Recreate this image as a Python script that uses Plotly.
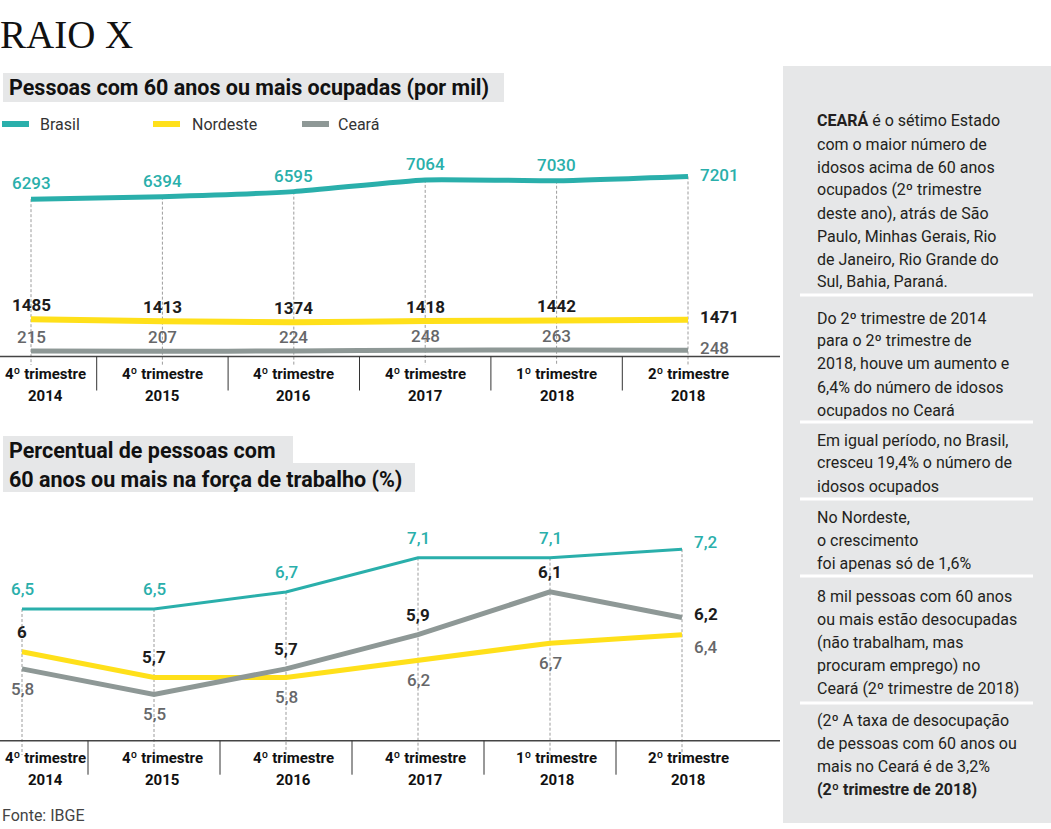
import plotly.graph_objects as go

W, H = 1051, 829

# ---------------- data ----------------
period_top = ["4º trimestre", "4º trimestre", "4º trimestre", "4º trimestre", "1º trimestre", "2º trimestre"]
period_year = ["2014", "2015", "2016", "2017", "2018", "2018"]
series_names = ["Brasil", "Nordeste", "Ceará"]

ocupadas_brasil = [6293, 6394, 6595, 7064, 7030, 7201]
ocupadas_nordeste = [1485, 1413, 1374, 1418, 1442, 1471]
ocupadas_ceara = [215, 207, 224, 248, 263, 248]

forca_brasil = [6.5, 6.5, 6.7, 7.1, 7.1, 7.2]
forca_nordeste = [6.0, 5.7, 5.7, 5.9, 6.1, 6.2]
forca_ceara = [5.8, 5.5, 5.8, 6.2, 6.7, 6.4]

side_paragraphs = [
    ["<b>CEARÁ</b> é o sétimo Estado", "com o maior número de", "idosos acima de 60 anos",
     "ocupados (2º trimestre", "deste ano), atrás de São", "Paulo, Minhas Gerais, Rio",
     "de Janeiro, Rio Grande do", "Sul, Bahia, Paraná."],
    ["Do 2º trimestre de 2014", "para o 2º trimestre de", "2018, houve um aumento e",
     "6,4% do número de idosos", "ocupados no Ceará"],
    ["Em igual período, no Brasil,", "cresceu 19,4% o número de", "idosos ocupados"],
    ["No Nordeste,", "o crescimento", "foi apenas só de 1,6%"],
    ["8 mil pessoas com 60 anos", "ou mais estão desocupadas", "(não trabalham, mas",
     "procuram emprego) no", "Ceará (2º trimestre de 2018)"],
    ["(2º A taxa de desocupação", "de pessoas com 60 anos ou", "mais no Ceará é de 3,2%",
     "<b>(2º trimestre de 2018)</b>"],
]

# ---------------- styles ----------------
TEAL = "#2AAFAB"
YELLOW = "#FFE01A"
GRAY = "#8E9896"
LBL_GRAY = "#666769"
DARK = "#1c1c1c"
PANEL = "#E6E7E8"
FONT = "Roboto"


def px(x):
    return x / W


def py(y):
    return 1 - y / H


n = len(period_year)
xs = list(range(n))

# axis geometry (pixels)
c1_top, c1_bot, c1_axis = 150, 365, 356.5
c2_top, c2_bot, c2_axis = 500, 755, 740.7
plot_right = 780

y1_range = [-340, 8260]
y2_range = [4.792, 7.775]
x1_range = [-31 / 131.4, (plot_right - 31) / 131.4]
x2_range = [-22 / 132.0, (plot_right - 22) / 132.0]

fig = go.Figure()


def guide(values, bottom, xa, ya):
    gx, gy = [], []
    for i, v in enumerate(values):
        gx += [i, i, None]
        gy += [v, bottom, None]
    fig.add_trace(go.Scatter(x=gx, y=gy, mode="lines", xaxis=xa, yaxis=ya,
                             line=dict(color="#9c9c9c", width=1, dash="3px,2px"),
                             hoverinfo="skip", showlegend=False))


guide(ocupadas_brasil, y1_range[0], "x", "y")
guide(forca_brasil, y2_range[0], "x2", "y2")

for vals, col, wd in [(ocupadas_ceara, GRAY, 5), (ocupadas_nordeste, YELLOW, 6), (ocupadas_brasil, TEAL, 5)]:
    fig.add_trace(go.Scatter(x=xs, y=vals, mode="lines", xaxis="x", yaxis="y",
                             line=dict(color=col, width=wd, shape="spline", smoothing=0.5),
                             hoverinfo="skip", showlegend=False))

for vals, col, wd in [(forca_nordeste, YELLOW, 5), (forca_ceara, GRAY, 5), (forca_brasil, TEAL, 3)]:
    fig.add_trace(go.Scatter(x=xs, y=vals, mode="lines", xaxis="x2", yaxis="y2",
                             line=dict(color=col, width=wd),
                             hoverinfo="skip", showlegend=False))

ann = []
shapes = []

# ---------- title & headers ----------
ann.append(dict(x=px(-2), y=py(34), xref="paper", yref="paper", xanchor="left", yanchor="middle",
                text="RAIO X", showarrow=False,
                font=dict(family="Liberation Serif", size=39, color="#111")))

shapes.append(dict(type="rect", xref="paper", yref="paper", x0=px(3), x1=px(504), y0=py(102), y1=py(73),
                   fillcolor=PANEL, line=dict(width=0), layer="below"))
ann.append(dict(x=px(7), y=py(88), xref="paper", yref="paper", xanchor="left", yanchor="middle",
                text="<b>Pessoas com 60 anos ou mais ocupadas (por mil)</b>", showarrow=False,
                font=dict(family=FONT, size=21.5, color="#111")))

shapes.append(dict(type="rect", xref="paper", yref="paper", x0=px(3), x1=px(293), y0=py(463), y1=py(436),
                   fillcolor=PANEL, line=dict(width=0), layer="below"))
shapes.append(dict(type="rect", xref="paper", yref="paper", x0=px(3), x1=px(415), y0=py(492), y1=py(463),
                   fillcolor=PANEL, line=dict(width=0), layer="below"))
ann.append(dict(x=px(7), y=py(451), xref="paper", yref="paper", xanchor="left", yanchor="middle",
                text="<b>Percentual de pessoas com</b>", showarrow=False,
                font=dict(family=FONT, size=21.5, color="#111")))
ann.append(dict(x=px(7), y=py(479), xref="paper", yref="paper", xanchor="left", yanchor="middle",
                text="<b>60 anos ou mais na força de trabalho (%)</b>", showarrow=False,
                font=dict(family=FONT, size=21.5, color="#111")))

# ---------- legend ----------
for name, col, x0, tx in zip(series_names, [TEAL, YELLOW, GRAY], [2, 153, 302], [38, 190, 336]):
    shapes.append(dict(type="line", xref="paper", yref="paper", x0=px(x0), x1=px(x0 + 27),
                       y0=py(124), y1=py(124), line=dict(color=col, width=6)))
    ann.append(dict(x=px(tx), y=py(124), xref="paper", yref="paper", xanchor="left", yanchor="middle",
                    text=name, showarrow=False, font=dict(family=FONT, size=16, color="#333")))

# ---------- axis lines, dividers, tick labels ----------
for axis_y, xref in [(c1_axis, "x"), (c2_axis, "x2")]:
    shapes.append(dict(type="line", xref="paper", yref="paper", x0=0, x1=px(plot_right),
                       y0=py(axis_y), y1=py(axis_y), line=dict(color="#444", width=1.5)))
    for i in range(n - 1):
        shapes.append(dict(type="line", xref=xref, yref="paper", x0=i + 0.5, x1=i + 0.5,
                           y0=py(axis_y), y1=py(axis_y + 34), line=dict(color="#333", width=1)))
    for i in range(n):
        shift = 14 if i == 0 else 0
        ann.append(dict(x=i, y=py(axis_y + 17), xref="x", yref="paper", xanchor="center", yanchor="middle",
                        xshift=shift, text="<b>%s</b>" % period_top[i], showarrow=False,
                        font=dict(family=FONT, size=15, color="#111")))
        ann.append(dict(x=i, y=py(axis_y + 39), xref="x", yref="paper", xanchor="center", yanchor="middle",
                        xshift=shift, text="<b>%s</b>" % period_year[i], showarrow=False,
                        font=dict(family=FONT, size=15, color="#111")))


def fmt_pct(v):
    return ("%g" % v).replace(".", ",")


def label(i, v, text, xref, yref, color, weight, above=True, dy=4, last_dy=0):
    if i == n - 1:
        return dict(x=i, y=v, xref=xref, yref=yref, xanchor="left", yanchor="middle", xshift=10,
                    yshift=last_dy, text=text, showarrow=False,
                    font=dict(family=FONT, size=17, color=color, weight=weight))
    return dict(x=i, y=v, xref=xref, yref=yref, xanchor="center",
                yanchor="bottom" if above else "top", yshift=dy if above else -dy,
                text=text, showarrow=False, font=dict(family=FONT, size=17, color=color, weight=weight))


# chart 1 labels
for i in range(n):
    ann.append(label(i, ocupadas_brasil[i], str(ocupadas_brasil[i]), "x", "y", TEAL, 500, dy=4, last_dy=1))
    ann.append(label(i, ocupadas_nordeste[i], str(ocupadas_nordeste[i]), "x", "y", DARK, 700, dy=2, last_dy=3))
    ann.append(label(i, ocupadas_ceara[i], str(ocupadas_ceara[i]), "x", "y", LBL_GRAY, 500, dy=2, last_dy=2))

# chart 2 labels: Nordeste values above upper line, Ceará values below lower line
for i in range(n):
    ann.append(label(i, forca_brasil[i], fmt_pct(forca_brasil[i]), "x2", "y2", TEAL, 500, dy=8, last_dy=7))
    upper = max(forca_nordeste[i], forca_ceara[i])
    lower = min(forca_nordeste[i], forca_ceara[i])
    ann.append(label(i, upper, fmt_pct(forca_nordeste[i]), "x2", "y2", DARK, 700, above=True, dy=8, last_dy=4))
    ann.append(label(i, lower, fmt_pct(forca_ceara[i]), "x2", "y2", LBL_GRAY, 500, above=False, dy=8,
                     last_dy=-12))

# source
ann.append(dict(x=0, y=py(815), xref="paper", yref="paper", xanchor="left", yanchor="middle",
                text="Fonte: IBGE", showarrow=False, font=dict(family=FONT, size=16, color="#444")))

# ---------- side panel ----------
shapes.append(dict(type="rect", xref="paper", yref="paper", x0=px(783), x1=1, y0=py(823), y1=py(66),
                   fillcolor=PANEL, line=dict(width=0), layer="below"))
para_start = [121, 318, 440, 517, 596, 720]
separators = [295, 422, 499, 576, 703]
for sy in separators:
    shapes.append(dict(type="line", xref="paper", yref="paper", x0=px(800), x1=px(1033),
                       y0=py(sy), y1=py(sy), line=dict(color="white", width=3)))
for lines, y0 in zip(side_paragraphs, para_start):
    for k, t in enumerate(lines):
        ann.append(dict(x=px(815), y=py(y0 + 23 * k), xref="paper", yref="paper", xanchor="left",
                        yanchor="middle", text=t, showarrow=False,
                        font=dict(family=FONT, size=16, color="#231F20")))

fig.update_layout(
    width=W, height=H, margin=dict(l=0, r=0, t=0, b=0),
    paper_bgcolor="white", plot_bgcolor="rgba(0,0,0,0)", showlegend=False,
    xaxis=dict(domain=[0, px(plot_right)], range=x1_range, visible=False, fixedrange=True),
    yaxis=dict(domain=[py(c1_bot), py(c1_top)], range=y1_range, visible=False, fixedrange=True),
    xaxis2=dict(domain=[0, px(plot_right)], range=x2_range, visible=False, fixedrange=True, anchor="y2"),
    yaxis2=dict(domain=[py(c2_bot), py(c2_top)], range=y2_range, visible=False, fixedrange=True, anchor="x2"),
    annotations=ann, shapes=shapes,
)

fig.write_html(
    "out.html",
    config={"displayModeBar": False},
    post_script="document.body.style.margin='0px';document.body.style.padding='0px';"
                "document.body.style.overflow='hidden';",
)
